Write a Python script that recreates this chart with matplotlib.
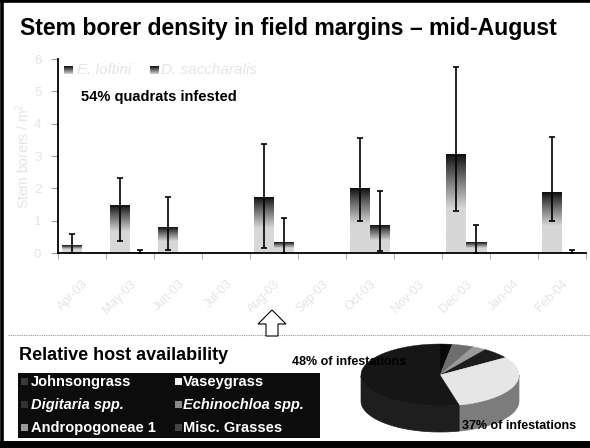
import numpy as np
import matplotlib
matplotlib.use("Agg")
from matplotlib import pyplot as plt
from matplotlib.patches import Polygon, Rectangle

plt.rcParams['font.family'] = ['Liberation Sans', 'DejaVu Sans']

months = ['Apr-03', 'May-03', 'Jun-03', 'Jul-03', 'Aug-03', 'Sep-03',
          'Oct-03', 'Nov-03', 'Dec-03', 'Jan-04', 'Feb-04']
nan = np.nan
loftini = [0.22, 1.46, 0.78, nan, 1.73, nan, 2.0, nan, 3.05, nan, 1.88]
loftini_lo = [0.0, 0.37, 0.09, nan, 0.15, nan, 0.99, nan, 1.31, nan, 0.99]
loftini_hi = [0.6, 2.33, 1.72, nan, 3.38, nan, 3.56, nan, 5.74, nan, 3.6]
sacch = [nan, 0.02, nan, nan, 0.34, nan, 0.86, nan, 0.34, nan, 0.02]
sacch_lo = [nan, 0.0, nan, nan, 0.0, nan, 0.05, nan, 0.0, nan, 0.0]
sacch_hi = [nan, 0.1, nan, nan, 1.09, nan, 1.93, nan, 0.88, nan, 0.09]

hosts = ['Johnsongrass', 'Vaseygrass', 'Digitaria spp.', 'Echinochloa spp.',
         'Andropogoneae 1', 'Misc. Grasses']
host_share = [53.9, 30.6, 2.5, 4.4, 2.8, 5.8]
pie_order = [2, 3, 4, 5, 1, 0]   # drawn clockwise from 12 o'clock
host_top = ['#161616', '#e6e6e6', '#080808', '#6e6e6e', '#9a9a9a', '#1c1c1c']
host_side = ['#1e1e1e', '#7c7c7c', '#101010', '#505050', '#6a6a6a', '#141414']
host_marker = ['#3a3a3a', '#f2f2f2', '#333333', '#8a8a8a', '#9a9a9a', '#444444']

W, H = 590, 448
fig = plt.figure(figsize=(W / 100, H / 100), dpi=100)

# overlay in pixel coords
ov = fig.add_axes([0, 0, 1, 1])
ov.set_xlim(0, W)
ov.set_ylim(H, 0)
ov.axis('off')

# frame
ov.plot([1.5, 1.5], [0, H], color='black', lw=2.6)
ov.plot([0, W], [1.5, 1.5], color='black', lw=2.6)
ov.plot([0, W], [444.5, 444.5], color='black', lw=5)
ov.plot([8, W], [335, 335], color='#999999', lw=0.8, ls=(0, (1, 1)))

fig.text(20 / W, 1 - 28 / H, 'Stem borer density in field margins \u2013 mid-August',
         fontsize=16.6, fontweight='bold', va='center', ha='left')

# arrow
arrow = Polygon([[272, 310], [286, 324], [278, 324], [278, 336], [266, 336],
                 [266, 324], [258, 324]], closed=True, facecolor='white',
                edgecolor='black', lw=0.8, zorder=5)
ov.add_patch(arrow)

# bottom panel
ov.text(19, 356, 'Relative host availability', fontsize=13, fontweight='bold',
        va='center', ha='left')
ov.add_patch(Rectangle((18, 373), 302, 65, facecolor='#0c0c0c', edgecolor='none'))
rows = [382, 405, 428]
cols = [(21, 31), (175, 183)]
for i, name in enumerate(hosts):
    r, c = i // 2, i % 2
    mx, tx = cols[c]
    ov.add_patch(Rectangle((mx, rows[r] - 4), 7, 7, facecolor=host_marker[i],
                           edgecolor='none'))
    style = 'italic' if 'spp' in name else 'normal'
    ov.text(tx, rows[r], name, color='white', fontsize=10.5, fontweight='bold',
            fontstyle=style, va='center', ha='left')

# 3D pie
cx, cy, a, b, depth = 440, 375, 79, 31, 26
start = 90.0
for idx in pie_order:
    span = 360.0 * host_share[idx] / sum(host_share)
    t = np.radians(np.linspace(start, start - span, 120))
    ex = cx + a * np.cos(t)
    ey = cy - b * np.sin(t)
    # side wall on front half
    front = np.sin(t) <= 0
    if front.any():
        fx, fy = ex[front], ey[front]
        wall = np.column_stack([np.r_[fx, fx[::-1]], np.r_[fy, fy[::-1] + depth]])
        ov.add_patch(Polygon(wall, closed=True, facecolor=host_side[idx],
                             edgecolor=host_side[idx], lw=0.5, zorder=2))
    top = np.column_stack([np.r_[cx, ex], np.r_[cy, ey]])
    ov.add_patch(Polygon(top, closed=True, facecolor=host_top[idx],
                         edgecolor=host_top[idx], lw=0.3, zorder=3))
    start -= span

ov.text(292, 362, '48% of infestations', fontsize=9, fontweight='bold',
        va='center', ha='left', zorder=6)
ov.text(462, 426, '37% of infestations', fontsize=9, fontweight='bold',
        va='center', ha='left', zorder=6)

# main bar chart
ax = fig.add_axes([58 / W, 1 - 253 / H, 528 / W, 194 / H])
ax.set_facecolor('none')
x = np.arange(len(months))
bw = 20 / 48


def grad_bar(xc, h):
    n = 200
    y = np.linspace(h, 0, n)
    t = np.clip((h - y) / (0.55 * h), 0, 1)
    g = 0.05 + 0.79 * t ** 0.9
    img = np.repeat(g[:, None], 2, axis=1)
    ax.imshow(img, cmap='gray', vmin=0, vmax=1, aspect='auto',
              extent=[xc - bw / 2, xc + bw / 2, 0, h], zorder=2,
              interpolation='bilinear')


for vals, lo, hi, off in [(loftini, loftini_lo, loftini_hi, -bw / 2),
                          (sacch, sacch_lo, sacch_hi, bw / 2)]:
    for i in x:
        v = vals[i]
        if np.isnan(v):
            continue
        grad_bar(i + off, v)
        ax.errorbar(i + off, v, yerr=[[v - lo[i]], [hi[i] - v]], color='black',
                    lw=1.2, capsize=2, capthick=1.2, zorder=4)

ax.set_xlim(-0.5, len(months) - 0.5)
ax.set_ylim(0, 6)
for s in ['top', 'right']:
    ax.spines[s].set_visible(False)
ax.spines['left'].set_linewidth(1.3)
ax.spines['bottom'].set_linewidth(1.3)
ax.set_yticks(range(7))
ax.tick_params(axis='y', colors='#a0a0a0', labelcolor='#e4e4e4', labelsize=9.5,
               length=5, pad=7)
ax.set_xticks(x)
ax.set_xticklabels(months, rotation=45, ha='right', rotation_mode='anchor')
ax.set_xticks(np.arange(-0.5, len(months)), minor=True)
ax.tick_params(axis='x', which='major', length=0, labelcolor='#e4e4e4',
               labelsize=9, pad=18)
ax.tick_params(axis='x', which='minor', length=4, colors='#a0a0a0')
ax.set_ylabel('Stem borers / m$^2$', color='#e4e4e4', fontsize=10, labelpad=1)

# legend
for (px, tx, label) in [(64, 77, 'E. loftini'), (150, 161, 'D. saccharalis')]:
    la = fig.add_axes([px / W, 1 - 74 / H, 9 / W, 8 / H])
    g = np.linspace(0.05, 0.83, 50)
    la.imshow(np.repeat(g[:, None], 2, axis=1), cmap='gray', vmin=0, vmax=1,
              aspect='auto')
    la.axis('off')
    fig.text(tx / W, 1 - 70 / H, label, color='#e4e4e4', fontsize=11,
             fontstyle='italic', va='center', ha='left')

ax.text(0.043, 0.805, '54% quadrats infested', transform=ax.transAxes,
        fontsize=10.5, fontweight='bold', va='center', ha='left')

fig.savefig('out.png', dpi=100)
